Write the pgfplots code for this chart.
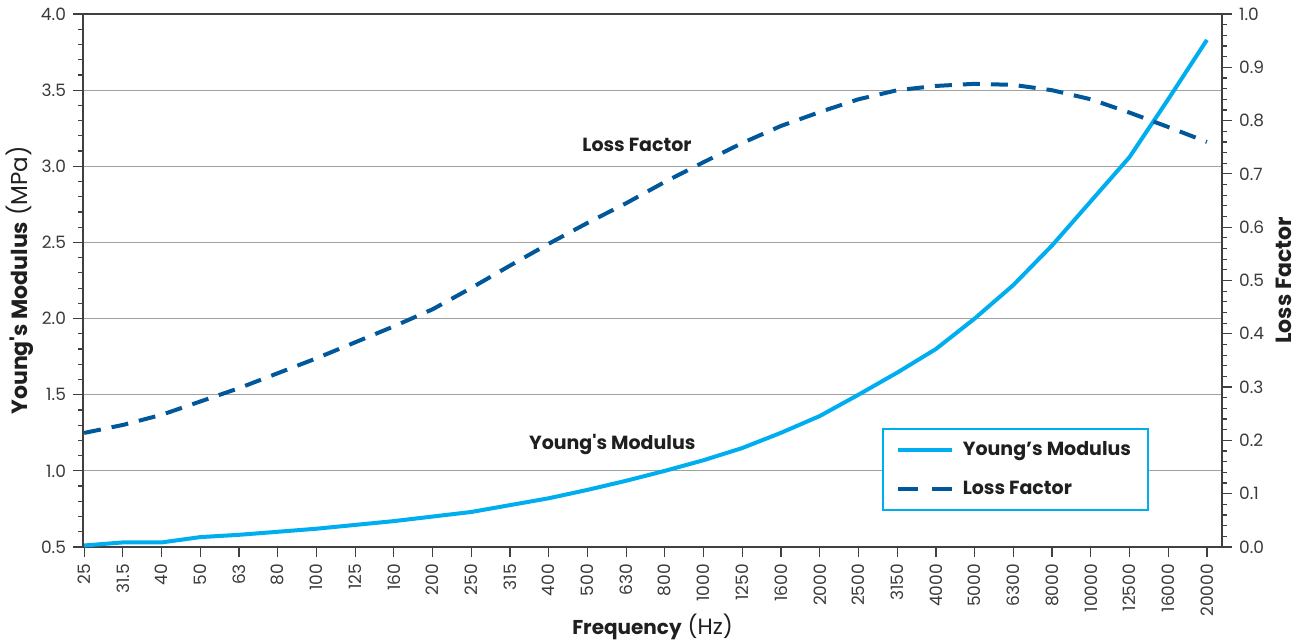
\documentclass[border=0pt]{standalone}
\usepackage{fontspec}
\setmainfont{Poppins}
\usepackage{pgfplots}
\pgfplotsset{compat=1.18}
\definecolor{ymcol}{HTML}{00AEEF}
\definecolor{lfcol}{HTML}{00589B}
\definecolor{axcol}{HTML}{404040}
\definecolor{tickcol}{HTML}{3A3A3A}
\definecolor{gridcol}{HTML}{A0A0A0}
\pgfplotsset{
 common/.style={
   scale only axis, width=569.5pt, height=266.5pt,
   at={(0,0)}, anchor=south west,
   xmin=-0.03, xmax=29.39,
   tick align=outside,
   major tick length=5pt, minor tick length=2.5pt,
   every tick/.style={axcol, line width=0.6pt},
   axis line style={axcol, line width=0.8pt},
   tick label style={font=\fontsize{8.5}{10}\selectfont, text=tickcol},
   yticklabel style={/pgf/number format/fixed, /pgf/number format/fixed zerofill, /pgf/number format/precision=1},
   /pgf/number format/assume math mode=true,
   label style={font=\fontsize{11}{13}\selectfont, text=black!88},
 },
}
\begin{document}
\begin{tikzpicture}
\begin{axis}[common,
  xtick={0,...,29},
  xticklabels={25,31.5,40,50,63,80,100,125,160,200,250,315,400,500,630,800,1000,1250,1600,2000,2500,3150,4000,5000,6300,8000,10000,12500,16000,20000},
  x tick label style={rotate=90, anchor=east},
  xtick pos=bottom,
  ymin=0.5, ymax=4.0, ytick={0.5,1.0,1.5,2.0,2.5,3.0,3.5,4.0}, minor y tick num=4, ytick pos=left,
  ymajorgrids, grid style={gridcol, line width=0.5pt},
  xlabel={{\fontsize{10}{12}\selectfont\textbf{Frequency}} (Hz)},
  ylabel={\textbf{Young\textquotesingle s Modulus} {\fontsize{11.5}{13}\selectfont(MPa)}},
  xlabel style={yshift=8pt},
  ylabel style={yshift=-3pt},
]
\addplot[ymcol, line width=2pt, line join=round] coordinates {
(0,0.51) (1,0.53) (2,0.53) (3,0.565) (4,0.58) (5,0.60) (6,0.62) (7,0.645) (8,0.67) (9,0.70)
(10,0.73) (11,0.775) (12,0.82) (13,0.875) (14,0.935) (15,1.00) (16,1.07) (17,1.15) (18,1.25) (19,1.36)
(20,1.50) (21,1.645) (22,1.80) (23,2.00) (24,2.22) (25,2.48) (26,2.77) (27,3.06) (28,3.44) (29,3.83)
};
\node[font=\bfseries\fontsize{9.5}{11}\selectfont, text=black!88] at (axis cs:14.28,3.14) {Loss Factor};
\node[font=\bfseries\fontsize{9.5}{11}\selectfont, text=black!88] at (axis cs:13.64,1.176) {Young\textquotesingle s Modulus};
\end{axis}
\begin{axis}[common,
  axis x line=none, axis y line*=right,
  ymin=0, ymax=1, ytick={0,0.1,0.2,0.3,0.4,0.5,0.6,0.7,0.8,0.9,1.0}, minor y tick num=4,
  ylabel={\textbf{Loss Factor}},
  ylabel style={yshift=1pt},
  legend style={at={(rel axis cs:0.7015,0.2233)}, anchor=north west, draw=ymcol, line width=0.8pt,
    fill=white, font=\bfseries\fontsize{9.5}{11}\selectfont, inner xsep=6.5pt, inner ysep=4.5pt,
    row sep=7pt, text=black!88},
  legend cell align=left,
  legend image code/.code={\draw[#1] (0pt,0pt) -- (27pt,0pt); \path (29.5pt,0pt);},
]
\addlegendimage{ymcol, line width=2pt}
\addlegendentry{Young’s Modulus}
\addplot[lfcol, line width=2pt, dash pattern=on 8.5pt off 5.5pt, line join=round, forget plot] coordinates {
(0,0.214) (1,0.229) (2,0.248) (3,0.273) (4,0.298) (5,0.326) (6,0.354) (7,0.384) (8,0.414) (9,0.446)
(10,0.486) (11,0.528) (12,0.569) (13,0.608) (14,0.645) (15,0.685) (16,0.722) (17,0.758) (18,0.790) (19,0.816)
(20,0.840) (21,0.857) (22,0.865) (23,0.869) (24,0.867) (25,0.857) (26,0.840) (27,0.815) (28,0.788) (29,0.760)
};
\addlegendimage{lfcol, line width=2pt, dash pattern=on 10pt off 7pt}
\addlegendentry{Loss Factor}
\end{axis}
\pgfresetboundingbox
\path (-41.5pt,-48pt) rectangle (609.5pt,273.5pt);
\end{tikzpicture}
\end{document}
